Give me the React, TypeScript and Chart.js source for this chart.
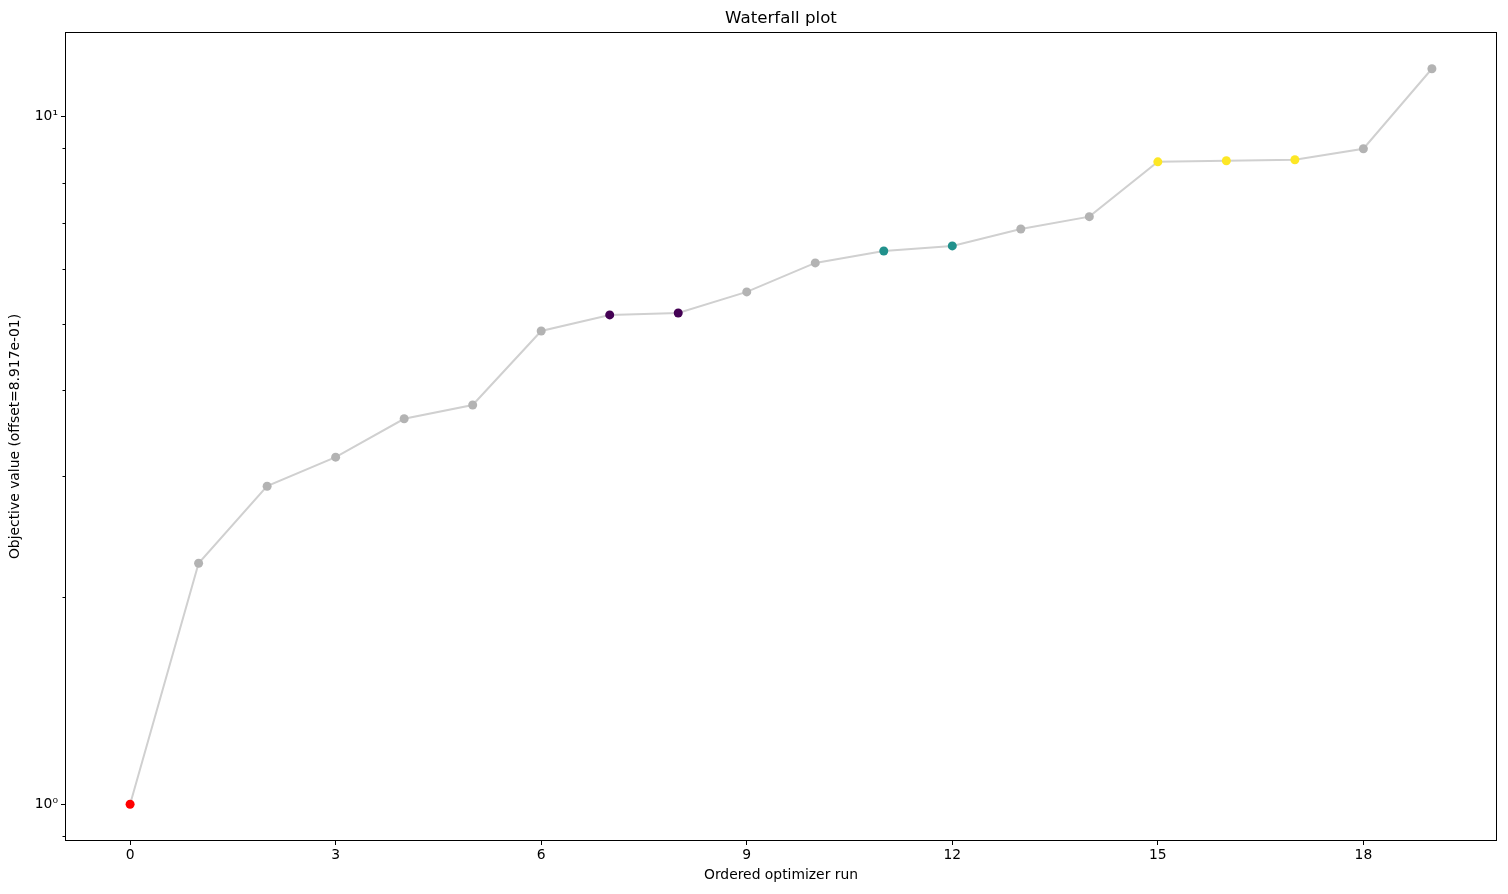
import React, { useEffect, useRef } from "react";
import { Chart, registerables } from "chart.js";

Chart.register(...registerables);

const runs: number[] = [0, 1, 2, 3, 4, 5, 6, 7, 8, 9, 10, 11, 12, 13, 14, 15, 16, 17, 18, 19];
const objectiveValues: number[] = [
  1.0, 2.241, 2.901, 3.197, 3.636, 3.807, 4.879, 5.148, 5.182, 5.561,
  6.128, 6.378, 6.487, 6.866, 7.155, 8.597, 8.627, 8.656, 8.981, 11.74,
];
const pointColors: string[] = [
  "#ff0000", "#b3b3b3", "#b3b3b3", "#b3b3b3", "#b3b3b3", "#b3b3b3", "#b3b3b3",
  "#440154", "#440154", "#b3b3b3", "#b3b3b3", "#21918c", "#21918c", "#b3b3b3",
  "#b3b3b3", "#fde725", "#fde725", "#fde725", "#b3b3b3", "#b3b3b3",
];
const xTickValues: number[] = [0, 3, 6, 9, 12, 15, 18];
const yMajorTicks: number[] = [1, 10];
const yMinorTicks: number[] = [0.9, 2, 3, 4, 5, 6, 7, 8, 9];
const yTickLabels: Record<number, string> = { 1: "10\u2070", 10: "10\u00b9" };

const titleText = "Waterfall plot";
const xLabel = "Ordered optimizer run";
const yLabel = "Objective value (offset=8.917e-01)";

const FONT = "'DejaVu Sans', sans-serif";

export default function App() {
  const ref = useRef<HTMLCanvasElement | null>(null);

  useEffect(() => {
    document.body.style.margin = "0";
    document.body.style.overflow = "hidden";
    if (!ref.current) return;
    Chart.defaults.color = "#000";
    Chart.defaults.font.family = FONT;

    const logs = objectiveValues.map((v) => Math.log10(v));
    const lmin = Math.min(...logs);
    const lmax = Math.max(...logs);
    const m = (lmax - lmin) * 0.05;
    const yMin = Math.pow(10, lmin - m);
    const yMax = Math.pow(10, lmax + m);
    const xMin = runs[0] - (runs[runs.length - 1] - runs[0]) * 0.05;
    const xMax = runs[runs.length - 1] + (runs[runs.length - 1] - runs[0]) * 0.05;

    const framePlugin = {
      id: "frame",
      afterDraw(chart: any) {
        const { ctx, chartArea } = chart;
        const ys = chart.scales.y;
        ctx.save();
        ctx.strokeStyle = "#000";
        ctx.lineWidth = 1;
        ctx.strokeRect(
          Math.round(chartArea.left) + 0.5,
          Math.round(chartArea.top) + 0.5,
          Math.round(chartArea.right - chartArea.left) - 1,
          Math.round(chartArea.bottom - chartArea.top) - 1
        );
        // minor ticks
        ys.ticks.forEach((t: any) => {
          if (t.major) return;
          const py = Math.round(ys.getPixelForValue(t.value)) + 0.5;
          ctx.beginPath();
          ctx.moveTo(chartArea.left, py);
          ctx.lineTo(chartArea.left - 2.5, py);
          ctx.stroke();
        });
        // title
        ctx.fillStyle = "#000";
        ctx.font = `16.67px ${FONT}`;
        ctx.textAlign = "center";
        ctx.textBaseline = "alphabetic";
        ctx.fillText(titleText, (chartArea.left + chartArea.right) / 2, 23);
        ctx.restore();
      },
    };

    const chart = new Chart(ref.current, {
      type: "line",
      data: {
        datasets: [
          {
            data: runs.map((r, i) => ({ x: r, y: objectiveValues[i] })),
            borderColor: "#d0d0d0",
            borderWidth: 2,
            pointBackgroundColor: pointColors,
            pointBorderWidth: 0,
            pointRadius: 4.5,
            pointHoverRadius: 4.5,
            tension: 0,
            fill: false,
          },
        ],
      },
      options: {
        responsive: false,
        animation: false,
        layout: { padding: { top: 32, right: 11, left: 0, bottom: 0 } },
        plugins: {
          legend: { display: false },
          title: { display: false },
          tooltip: { enabled: false },
        },
        scales: {
          x: {
            type: "linear",
            min: xMin,
            max: xMax,
            afterFit: (s: any) => {
              s.height = 53;
            },
            afterBuildTicks: (s: any) => {
              s.ticks = xTickValues.map((v) => ({ value: v, major: true }));
            },
            ticks: {
              font: { size: 13.89, family: FONT },
              color: "#000",
              padding: 2,
              maxRotation: 0,
              autoSkip: false,
            },
            grid: {
              drawOnChartArea: false,
              tickLength: 4,
              tickColor: "#000",
              tickWidth: 1,
            },
            border: { display: false },
            title: {
              display: true,
              text: xLabel,
              font: { size: 13.89, family: FONT },
              color: "#000",
              padding: { top: 0, bottom: 10 },
            },
          },
          y: {
            type: "logarithmic",
            min: yMin,
            max: yMax,
            afterFit: (s: any) => {
              s.width = 65;
            },
            afterBuildTicks: (s: any) => {
              const all = [
                ...yMinorTicks.map((v) => ({ value: v, major: false })),
                ...yMajorTicks.map((v) => ({ value: v, major: true })),
              ].sort((a, b) => a.value - b.value);
              s.ticks = all;
            },
            ticks: {
              font: { size: 13.89, family: FONT },
              color: "#000",
              padding: 3,
              autoSkip: false,
              callback: function (value: any, index: number, ticks: any[]) {
                const t = ticks[index];
                if (t && t.major) return yTickLabels[t.value] ?? "";
                return "";
              },
            },
            grid: {
              drawOnChartArea: false,
              tickLength: 4,
              tickWidth: 1,
              tickColor: (ctx: any) => (ctx.tick && ctx.tick.major ? "#000" : "rgba(0,0,0,0)"),
            },
            border: { display: false },
            title: {
              display: true,
              text: yLabel,
              font: { size: 13.89, family: FONT },
              color: "#000",
              padding: { top: 7, bottom: 0 },
            },
          },
        },
      },
      plugins: [framePlugin],
    });

    return () => chart.destroy();
  }, []);

  return (
    <div style={{ width: 1508, height: 894 }}>
      <canvas ref={ref} width={1508} height={894} />
    </div>
  );
}
